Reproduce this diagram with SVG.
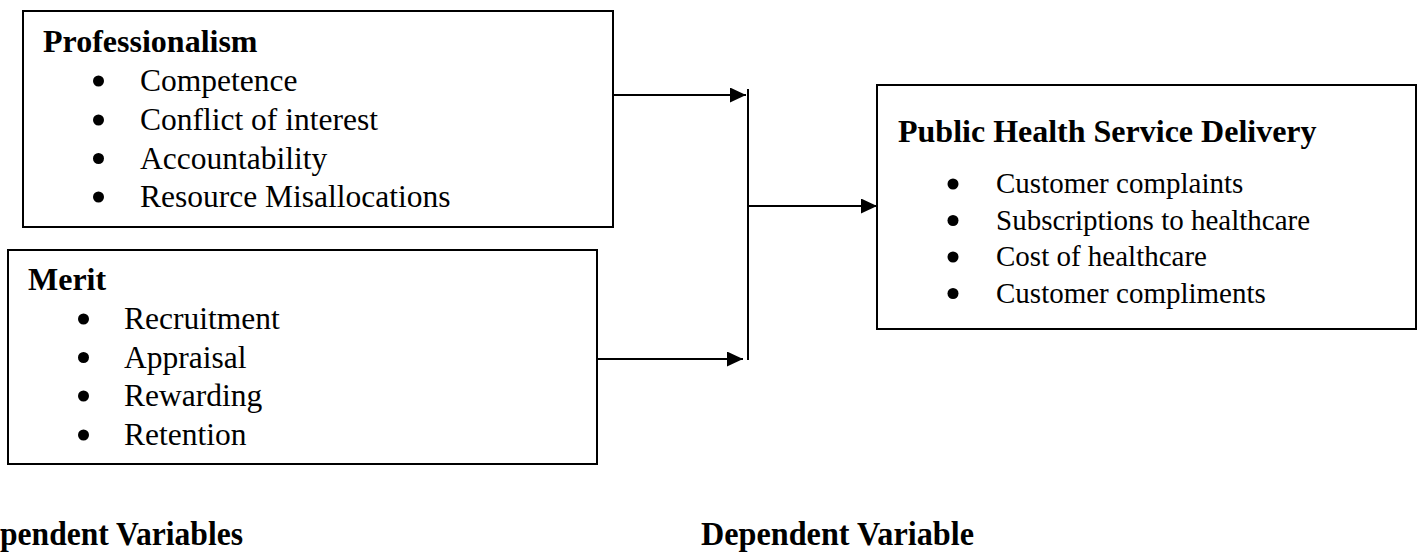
<svg xmlns="http://www.w3.org/2000/svg" width="1422" height="556" viewBox="0 0 1422 556">
  <style>
    .box { fill: #ffffff; stroke: #000000; stroke-width: 2; }
    .title { font-family: "Liberation Serif", "Times New Roman", serif; font-weight: bold; font-size: 32px; fill: #000000; }
    .item { font-family: "Liberation Serif", "Times New Roman", serif; font-size: 31.5px; fill: #000000; }
    .item-r { font-family: "Liberation Serif", "Times New Roman", serif; font-size: 29px; fill: #000000; }
    .caption { font-family: "Liberation Serif", "Times New Roman", serif; font-weight: bold; font-size: 34px; fill: #000000; }
    .bullet { fill: #000000; }
    .wire { fill: none; stroke: #000000; stroke-width: 2; }
  </style>
  <defs>
    <marker id="arrowhead" markerUnits="userSpaceOnUse" markerWidth="16" markerHeight="15" refX="16" refY="7.5" orient="auto">
      <path d="M0,0 L16,7.5 L0,15 z" fill="#000000"/>
    </marker>
  </defs>
  <rect width="1422" height="556" fill="#ffffff"/>

  <!-- Independent variable: Professionalism -->
  <g id="professionalism">
    <rect class="box" x="23" y="11" width="590" height="216"/>
    <text class="title" x="43" y="52">Professionalism</text>
    <circle class="bullet" cx="98.5" cy="81" r="5.5"/>
    <text class="item" x="140" y="91">Competence</text>
    <circle class="bullet" cx="98.5" cy="120" r="5.5"/>
    <text class="item" x="140" y="130">Conflict of interest</text>
    <circle class="bullet" cx="98.5" cy="158.5" r="5.5"/>
    <text class="item" x="140" y="168.5">Accountability</text>
    <circle class="bullet" cx="98.5" cy="197" r="5.5"/>
    <text class="item" x="140" y="207">Resource Misallocations</text>
  </g>

  <!-- Independent variable: Merit -->
  <g id="merit">
    <rect class="box" x="8" y="250" width="589" height="214"/>
    <text class="title" x="28" y="290">Merit</text>
    <circle class="bullet" cx="83.5" cy="319" r="5.5"/>
    <text class="item" x="124" y="329">Recruitment</text>
    <circle class="bullet" cx="83.5" cy="357.5" r="5.5"/>
    <text class="item" x="124" y="367.5">Appraisal</text>
    <circle class="bullet" cx="83.5" cy="396" r="5.5"/>
    <text class="item" x="124" y="406">Rewarding</text>
    <circle class="bullet" cx="83.5" cy="435" r="5.5"/>
    <text class="item" x="124" y="445">Retention</text>
  </g>

  <!-- Dependent variable: Public Health Service Delivery -->
  <g id="public-health">
    <rect class="box" x="877" y="85" width="539" height="244"/>
    <text class="title" x="898" y="142">Public Health Service Delivery</text>
    <circle class="bullet" cx="953" cy="184" r="5.5"/>
    <text class="item-r" x="996" y="193">Customer complaints</text>
    <circle class="bullet" cx="953" cy="220.5" r="5.5"/>
    <text class="item-r" x="996" y="229.5">Subscriptions to healthcare</text>
    <circle class="bullet" cx="953" cy="257" r="5.5"/>
    <text class="item-r" x="996" y="266">Cost of healthcare</text>
    <circle class="bullet" cx="953" cy="293.5" r="5.5"/>
    <text class="item-r" x="996" y="302.5">Customer compliments</text>
  </g>

  <!-- Connectors -->
  <g id="connectors">
    <line class="wire" x1="613" y1="95" x2="746" y2="95" marker-end="url(#arrowhead)"/>
    <line class="wire" x1="597" y1="359" x2="743" y2="359" marker-end="url(#arrowhead)"/>
    <line class="wire" x1="748" y1="89" x2="748" y2="360"/>
    <line class="wire" x1="748" y1="206" x2="877" y2="206" marker-end="url(#arrowhead)"/>
  </g>

  <!-- Column captions -->
  <g id="captions">
    <text class="caption" x="0" y="545" textLength="243" lengthAdjust="spacingAndGlyphs">pendent Variables</text>
    <text class="caption" x="701" y="545" textLength="273" lengthAdjust="spacingAndGlyphs">Dependent Variable</text>
  </g>
</svg>
